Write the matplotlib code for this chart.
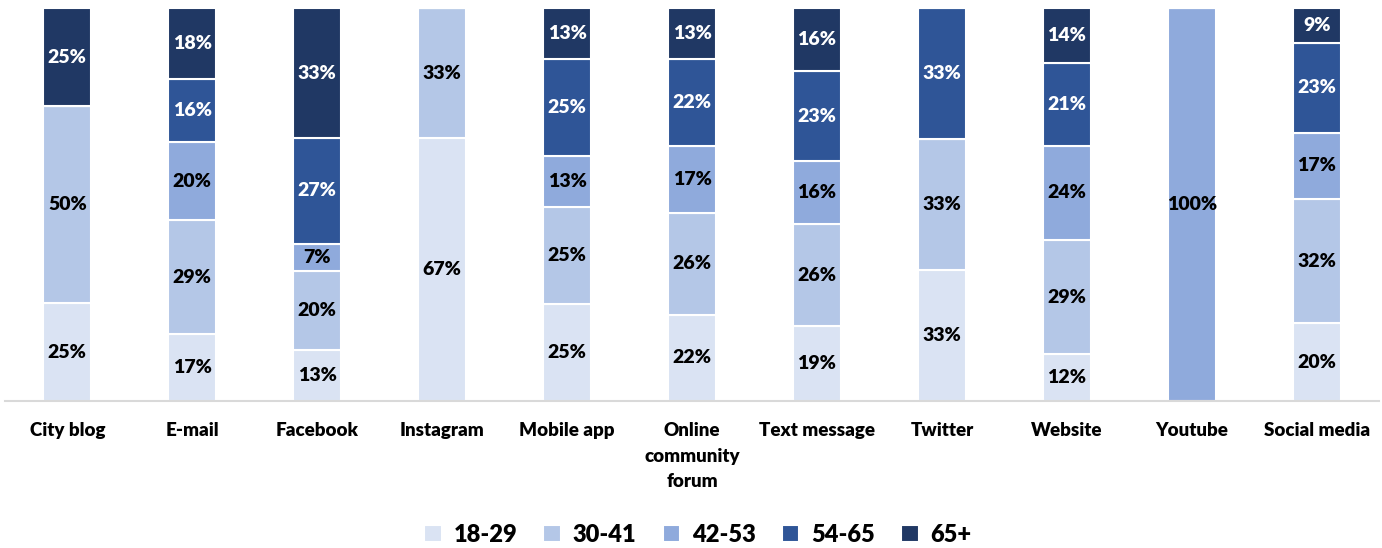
import matplotlib.pyplot as plt
import numpy as np

categories = ["City blog", "E-mail", "Facebook", "Instagram", "Mobile app",
              "Online\ncommunity\nforum", "Text message", "Twitter", "Website",
              "Youtube", "Social media"]
age_groups = ["18-29", "30-41", "42-53", "54-65", "65+"]

# percent of respondents per channel, by age group
age_18_29 = [25, 17, 13, 67, 25, 22, 19, 33, 12, 0, 20]
age_30_41 = [50, 29, 20, 33, 25, 26, 26, 33, 29, 0, 32]
age_42_53 = [0, 20, 7, 0, 13, 17, 16, 0, 24, 100, 17]
age_54_65 = [0, 16, 27, 0, 25, 22, 23, 33, 21, 0, 23]
age_65_up = [25, 18, 33, 0, 13, 13, 16, 0, 14, 0, 9]

colors = ["#DAE3F3", "#B4C7E7", "#8FAADC", "#2F5597", "#203864"]
text_colors = ["black", "black", "black", "white", "white"]

series = np.array([age_18_29, age_30_41, age_42_53, age_54_65, age_65_up], dtype=float)
shares = series / series.sum(axis=0)

plt.rcParams['font.family'] = ['Lato', 'DejaVu Sans']

fig = plt.figure(figsize=(13.82, 5.48), dpi=100)
ax = fig.add_axes([0.0035, 0.268, 0.9945, 0.717])

x = np.arange(len(categories))
bottom = np.zeros(len(categories))
for i, name in enumerate(age_groups):
    bars = ax.bar(x, shares[i], 0.385, bottom=bottom, color=colors[i],
                  edgecolor="white", linewidth=1.5, label=name)
    for j, b in enumerate(bars):
        if series[i, j] > 0:
            ax.text(b.get_x() + b.get_width() / 2, bottom[j] + shares[i, j] / 2,
                    "%d%%" % series[i, j], ha="center", va="center",
                    fontsize=14, fontweight="heavy", color=text_colors[i])
    bottom += shares[i]

ax.set_xlim(-0.5, len(categories) - 0.5)
ax.set_ylim(0, 1)
ax.set_yticks([])
ax.set_xticks(x)
ax.set_xticklabels(categories, fontsize=13.5, fontweight="heavy", va="top",
                   linespacing=1.62)
ax.tick_params(axis="x", length=0, pad=15)
for s in ["top", "left", "right"]:
    ax.spines[s].set_visible(False)
ax.spines["bottom"].set_color("#D9D9D9")
ax.spines["bottom"].set_linewidth(1.5)

fig.legend(loc="center", bbox_to_anchor=(0.505, 0.024), ncol=5, frameon=False,
           prop={"size": 17, "weight": "heavy"}, handlelength=0.75,
           handleheight=0.75, handletextpad=0.5, columnspacing=1.1)

fig.savefig("out.png", dpi=100)
